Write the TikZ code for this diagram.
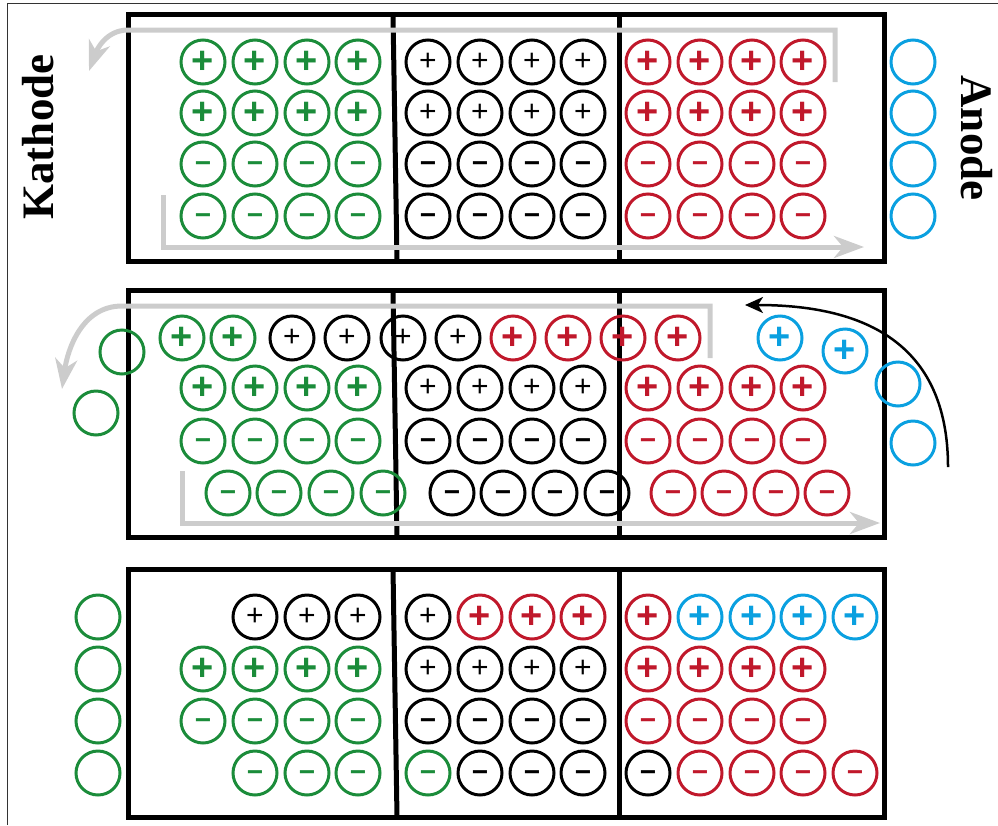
\documentclass[tikz,border=0pt]{standalone}
\usepackage{fontspec}
\setmainfont{Liberation Serif}
\newfontfamily\signfont{Liberation Sans}
\usetikzlibrary{arrows.meta}

\definecolor{kgreen}{HTML}{1B8C3A}
\definecolor{kred}{HTML}{C0182B}
\definecolor{kblue}{HTML}{0AA0E0}
\definecolor{flowgray}{HTML}{CCCCCC}

\tikzset{
  ion/.style={circle, draw, line width=3pt, minimum size=44pt, inner sep=0pt,
    text height=22pt, text depth=0pt,
    font=\signfont\bfseries\fontsize{38}{38}\selectfont},
  gion/.style={ion, draw=kgreen, text=kgreen},
  bion/.style={ion, draw=black, text=black},
  rion/.style={ion, draw=kred, text=kred},
  aion/.style={ion, draw=kblue, text=kblue},
  cell/.style={line width=5pt},
  flow/.style={draw=flowgray, line width=5pt, -{Stealth[length=30pt,width=22pt,inset=9pt]}},
  push/.style={line width=2.5pt, -{Stealth[length=18pt,width=16pt,inset=5pt]}},
  electrode/.style={font=\bfseries\fontsize{45}{45}\selectfont}
}
\newcommand\thinplus{\raisebox{2.3pt}{\mdseries\fontsize{30}{30}\selectfont+}}
\newcommand\mn{\raisebox{2.9pt}{\fontsize{28}{28}\selectfont−}}

\begin{document}
\begin{tikzpicture}[x=1pt, y=-1pt]
\useasboundingbox (0,0) rectangle (998,825);
\draw[line width=1pt, black!80] (7,825) -- (7,3) -- (998,3);

% Electrode labels
\node[electrode, rotate=90] (kathode) at (38,137) {Kathode};
\node[electrode, rotate=-90] (anode) at (977,138) {Anode};

% Cells
\foreach \t/\b in {14/261, 290/537, 569/817} {
  \draw[cell] (128,\t) rectangle (884,\b);
  \draw[cell] (393,\t) -- (397,\b);
  \draw[cell] (619,\t) -- (619,\b);
}

% Flow arrows
\coordinate (pA-in) at (835,82);
\coordinate (pA-out) at (89,71);
\coordinate (pA-lo) at (163,195);
\coordinate (pA-end) at (864,247);
\draw[flow] (pA-in) |- (128,30) to[out=180, in=70] (pA-out);
\draw[flow] (pA-lo) |- (pA-end);
\coordinate (pB-in) at (710,358);
\coordinate (pB-out) at (62,389);
\coordinate (pB-lo) at (182,471);
\coordinate (pB-end) at (880,523);
\draw[flow] (pB-in) |- (122,306) to[out=180, in=82] (pB-out);
\draw[flow] (pB-lo) |- (pB-end);
\coordinate (pB-from) at (948,467);
\coordinate (pB-to) at (745,305);
\draw[push] (pB-from) .. controls (948,340) and (860,305) .. (pB-to);

% Top panel
\foreach \y/\s/\t [count=\r] in {62/+/\thinplus,113/+/\thinplus,164/\mn/\mn,216/\mn/\mn} {
  \foreach \x [count=\c] in {203,255,307,358} \node[gion] (pA-g\r\c) at (\x,\y) {\s};
  \foreach \x [count=\c] in {428,480,532,583} \node[bion] (pA-b\r\c) at (\x,\y) {\t};
  \foreach \x [count=\c] in {648,700,752,803} \node[rion] (pA-r\r\c) at (\x,\y) {\s};
  \node[aion] (pA-a\r) at (913,\y) {};
}

% Middle panel
\foreach \x [count=\c] in {182,233} \node[gion] (pB-g0\c) at (\x,338) {+};
\foreach \x [count=\c] in {292,347,403,458} \node[bion] (pB-b0\c) at (\x,338) {\thinplus};
\foreach \x [count=\c] in {513,568,623,678} \node[rion] (pB-r0\c) at (\x,338) {+};
\node[aion] (pB-a1) at (780,338) {+};
\node[aion] (pB-a2) at (845,351) {+};
\node[aion] (pB-a3) at (898,384) {};
\node[aion] (pB-a4) at (913,443) {};
\node[gion] (pB-e1) at (122,352) {};
\node[gion] (pB-e2) at (96,413) {};
\foreach \y/\s/\t [count=\r] in {388/+/\thinplus,441/\mn/\mn} {
  \foreach \x [count=\c] in {203,255,307,358} \node[gion] (pB-g\r\c) at (\x,\y) {\s};
  \foreach \x [count=\c] in {428,480,532,583} \node[bion] (pB-b\r\c) at (\x,\y) {\t};
  \foreach \x [count=\c] in {648,700,752,803} \node[rion] (pB-r\r\c) at (\x,\y) {\s};
}
\foreach \x [count=\c] in {228,279,331,383} \node[gion] (pB-g3\c) at (\x,493) {\mn};
\foreach \x [count=\c] in {452,503,555,607} \node[bion] (pB-b3\c) at (\x,493) {\mn};
\foreach \x [count=\c] in {673,724,776,827} \node[rion] (pB-r3\c) at (\x,493) {\mn};

% Bottom panel
\foreach \x [count=\c] in {255,307,358,428} \node[bion] (pC-b0\c) at (\x,617) {\thinplus};
\foreach \x [count=\c] in {480,532,583,648} \node[rion] (pC-r0\c) at (\x,617) {+};
\foreach \x [count=\c] in {700,752,803,855} \node[aion] (pC-a0\c) at (\x,617) {+};
\foreach \y/\s/\t [count=\r] in {669/+/\thinplus,721/\mn/\mn} {
  \foreach \x [count=\c] in {203,255,307,358} \node[gion] (pC-g\r\c) at (\x,\y) {\s};
  \foreach \x [count=\c] in {428,480,532,583} \node[bion] (pC-b\r\c) at (\x,\y) {\t};
  \foreach \x [count=\c] in {648,700,752,803} \node[rion] (pC-r\r\c) at (\x,\y) {\s};
}
\foreach \x [count=\c] in {255,307,358,428} \node[gion] (pC-g3\c) at (\x,773) {\mn};
\foreach \x [count=\c] in {480,532,583,648} \node[bion] (pC-b3\c) at (\x,773) {\mn};
\foreach \x [count=\c] in {700,752,803,855} \node[rion] (pC-r3\c) at (\x,773) {\mn};
\foreach \y [count=\r] in {617,669,721,773} \node[gion] (pC-e\r) at (98,\y) {};
\end{tikzpicture}
\end{document}
